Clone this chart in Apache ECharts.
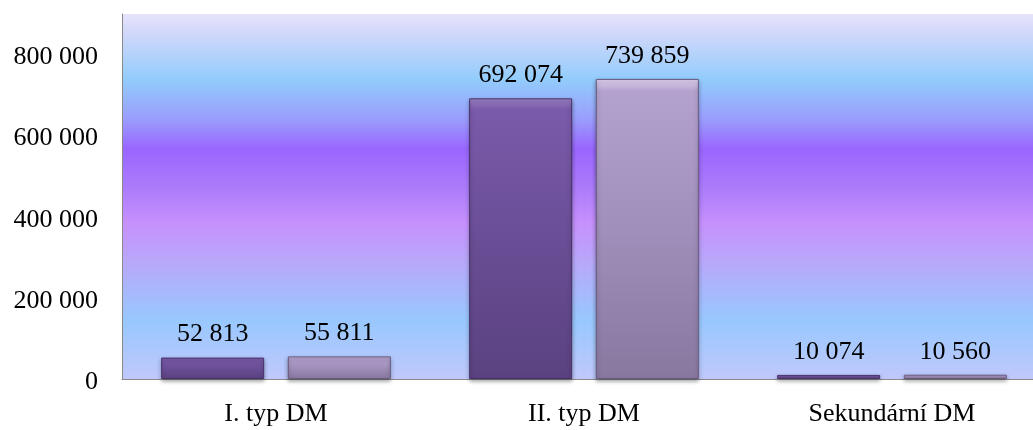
<!DOCTYPE html>
<html>
<head>
<meta charset="utf-8">
<script src="https://cdn.jsdelivr.net/npm/echarts@6/dist/echarts.min.js"></script>
<style>
html,body{margin:0;padding:0;background:#fff;}
#chart{width:1033px;height:430px;}
</style>
</head>
<body>
<div id="chart"></div>
<script>
const categories = ['I. typ DM', 'II. typ DM', 'Sekundární DM'];
const series2009 = [52813, 692074, 10074];
const series2010 = [55811, 739859, 10560];
const yTicks = [0, 200000, 400000, 600000, 800000];

function fmt(v) {
  return String(v).replace(/\B(?=(\d{3})+(?!\d))/g, ' ');
}
const FONT = '"Liberation Serif", "Times New Roman", serif';

function grad(c0, c1, c2, c3) {
  return {
    type: 'linear', x: 0, y: 0, x2: 0, y2: 1,
    colorStops: [
      { offset: 0, color: c0 },
      { offset: 0.04, color: c1 },
      { offset: 0.5, color: c2 },
      { offset: 1, color: c3 }
    ]
  };
}

const chart = echarts.init(document.getElementById('chart'), null, { renderer: 'canvas' });
chart.setOption({
  animation: false,
  grid: {
    left: 122, top: 14, width: 924, bottom: 51,
    outerBoundsMode: 'none',
    containLabel: false,
    show: true,
    borderWidth: 0,
    backgroundColor: {
      type: 'linear', x: 0, y: 0, x2: 0, y2: 1,
      colorStops: [
        { offset: 0, color: '#e6e4fc' },
        { offset: 0.05, color: '#d2d8fa' },
        { offset: 0.18, color: '#92ccfc' },
        { offset: 0.29, color: '#9a9cfc' },
        { offset: 0.37, color: '#9966ff' },
        { offset: 0.48, color: '#ac7cfa' },
        { offset: 0.57, color: '#c690fc' },
        { offset: 0.68, color: '#b8a8fa' },
        { offset: 0.84, color: '#98c8fe' },
        { offset: 1, color: '#c0c8fc' }
      ]
    }
  },
  xAxis: {
    type: 'category',
    data: categories,
    axisLine: { show: true, lineStyle: { color: '#8a8a8a', width: 1 } },
    axisTick: { show: false },
    axisLabel: { color: '#000', fontFamily: FONT, fontSize: 26, margin: 22 }
  },
  yAxis: {
    type: 'value',
    min: 0, max: 900000, interval: 200000,
    axisLine: { show: true, lineStyle: { color: '#8a8a8a', width: 1 } },
    axisTick: { show: false },
    splitLine: { show: false },
    axisLabel: {
      color: '#000', fontFamily: FONT, fontSize: 26, margin: 24,
      showMaxLabel: false,
      formatter: function (v) { return yTicks.indexOf(v) >= 0 ? '{a|' + fmt(v) + '}' : ''; },
      rich: { a: { fontFamily: FONT, fontSize: 26, color: '#000', padding: [6, 0, 0, 0] } }
    }
  },
  series: [
    {
      type: 'bar',
      data: series2009,
      barWidth: 103,
      barGap: '23%',
      itemStyle: {
        color: grad('#9c82c8', '#7a5aaa', '#6a4e96', '#5a4280'),
        borderColor: '#48336a', borderWidth: 1,
        shadowColor: 'rgba(0,0,0,0.35)', shadowBlur: 4, shadowOffsetY: 2
      },
      label: {
        show: true, position: 'top', distance: 10,
        color: '#000', fontFamily: FONT, fontSize: 26,
        formatter: function (p) { return fmt(p.value); }
      }
    },
    {
      type: 'bar',
      data: series2010,
      barWidth: 103,
      itemStyle: {
        color: grad('#e2d4f2', '#b4a2ce', '#a08fba', '#8878a0'),
        borderColor: '#6a5c80', borderWidth: 1,
        shadowColor: 'rgba(0,0,0,0.35)', shadowBlur: 4, shadowOffsetY: 2
      },
      label: {
        show: true, position: 'top', distance: 10,
        color: '#000', fontFamily: FONT, fontSize: 26,
        formatter: function (p) { return fmt(p.value); }
      }
    }
  ]
});
</script>
</body>
</html>
